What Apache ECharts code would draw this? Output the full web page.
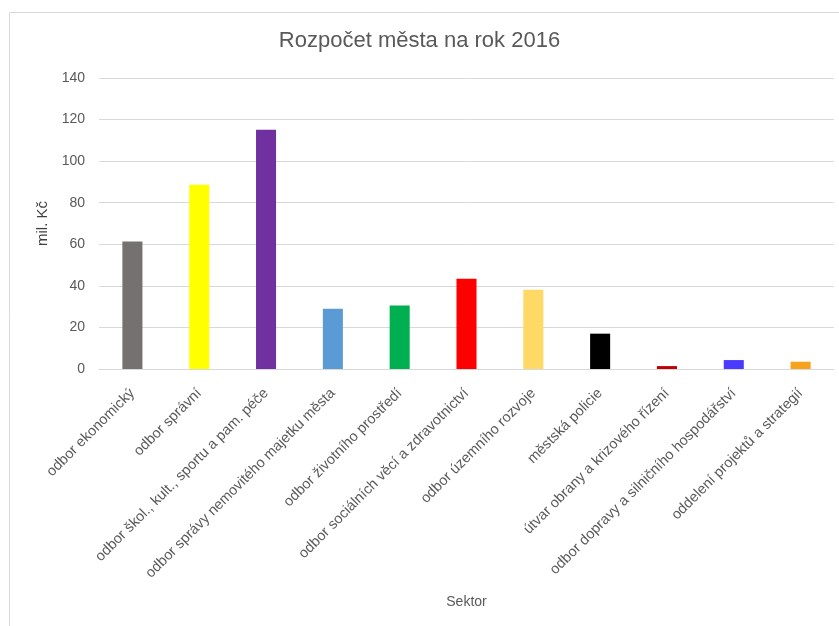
<!DOCTYPE html>
<html><head><meta charset="utf-8">
<script src="https://cdn.jsdelivr.net/npm/echarts@6/dist/echarts.min.js"></script>
<style>html,body{margin:0;padding:0;background:#fff}#c{width:839px;height:626px}</style>
</head><body><div id="c"></div>
<script>
const categories = ["odbor ekonomický","odbor správní","odbor škol., kult., sportu a pam. péče","odbor správy nemovitého majetku města","odbor životního prostředí","odbor sociálních věcí a zdravotnictví","odbor územního rozvoje","městská policie","útvar obrany a krizového řízení","odbor dopravy a silničního hospodářství","oddelení projektů a strategií"];
const values = [61.4, 88.6, 115.1, 29.0, 30.6, 43.4, 38.1, 17.0, 1.4, 4.3, 3.5];
const barColors = ["#767171","#FFFF00","#7030A0","#5B9BD5","#00B050","#FF0000","#FFD966","#000000","#C00000","#4A3AFF","#F7A21B"];
const yTicks = [0,20,40,60,80,100,120,140];
const titleText = "Rozpočet města na rok 2016";
const yName = "mil. Kč";
const xName = "Sektor";

const chart = echarts.init(document.getElementById('c'));
const font = "'Liberation Sans', Arial, sans-serif";
chart.setOption({
  animation:false,
  textStyle:{fontFamily:font},
  title:{text:titleText,left:'center',top:25,textStyle:{fontSize:22,fontWeight:'normal',color:'#595959',fontFamily:font}},
  graphic:[{type:'rect',shape:{x:9.5,y:12.5,width:840,height:620},style:{fill:'none',stroke:'#D9D9D9',lineWidth:1},silent:true}],
  grid:{left:99,right:5,top:78,height:291,containLabel:false},
  xAxis:{type:'category',data:categories,
    name:xName,nameLocation:'middle',nameGap:226,nameTextStyle:{fontSize:14,color:'#595959'},
    axisLine:{lineStyle:{color:'#D9D9D9'}},axisTick:{show:false},
    axisLabel:{rotate:45,interval:0,fontSize:14.5,color:'#595959',margin:22}},
  yAxis:{type:'value',min:yTicks[0],max:yTicks[yTicks.length-1],interval:20,
    name:yName,nameLocation:'middle',nameGap:46,nameRotate:90,nameTextStyle:{fontSize:15,color:'#404040'},
    axisLine:{show:false},axisTick:{show:false},
    axisLabel:{fontSize:14,color:'#595959',margin:14},
    splitLine:{lineStyle:{color:'#D9D9D9'}}},
  series:[{type:'bar',barWidth:'30%',
    data:values.map((v,i)=>({value:v,itemStyle:{color:barColors[i]}}))}]
});
</script></body></html>
